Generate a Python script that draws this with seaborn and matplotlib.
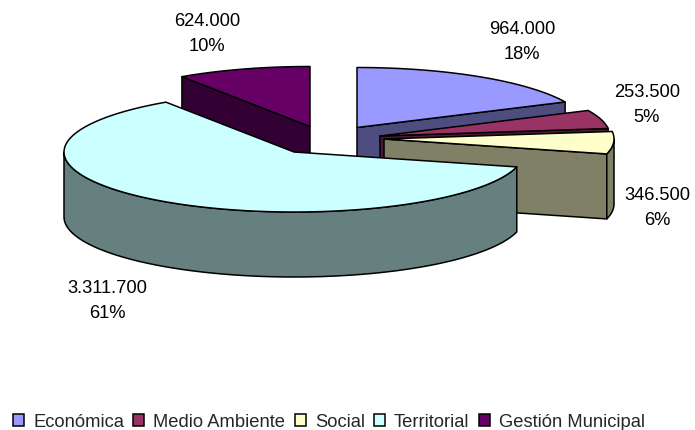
import numpy as np
import matplotlib
matplotlib.use("Agg")
import matplotlib.pyplot as plt
from matplotlib.patches import Polygon, Patch
import seaborn as sns

categories = ["Económica", "Medio Ambiente", "Social", "Territorial", "Gestión Municipal"]
amounts = [964000, 253500, 346500, 3311700, 624000]
percents = [18, 5, 6, 61, 10]
slice_shares = [18, 5, 6, 61.6, 9.4]  # as drawn in the picture
colors = ["#9999FF", "#993366", "#FFFFCC", "#CCFFFF", "#660066"]

# layout of the exploded 3-D pie, in pixels
centers = [(357, 128.5), (380, 137), (384, 140), (294, 153), (310, 127.5)]
label_xy = [(522, 42), (647, 105), (657, 208), (107, 301), (207, 34)]
RX, RY, DEPTH = 230, 60, 65
draw_order = [4, 0, 1, 2, 3]

sns.set_theme(style="white")
plt.rcParams["font.family"] = ["Liberation Sans", "DejaVu Sans"]
palette = sns.color_palette(colors)

fig = plt.figure(figsize=(6.95, 4.31), dpi=100)
ax = fig.add_axes([0, 0, 1, 1])
ax.set_xlim(0, 695)
ax.set_ylim(431, 0)
ax.axis("off")

ends = np.cumsum(slice_shares) * 3.6
starts = ends - np.array(slice_shares) * 3.6


def pt(c, t):
    r = np.radians(t)
    return np.column_stack([c[0] + RX * np.sin(r), c[1] - RY * np.cos(r)])


def face(xy, color, z):
    ax.add_patch(Polygon(xy, closed=True, facecolor=color, edgecolor="black",
                         lw=1.1, joinstyle="round", zorder=z))


for z, i in enumerate(draw_order):
    c, a, b = centers[i], starts[i], ends[i]
    top = palette[i]
    side = tuple(v * 0.5 for v in top)
    base = z * 10
    for t, visible in ((a, 180 < a < 360), (b, 0 < b < 180)):
        if visible:
            p = pt(c, t)[0]
            face([c, p, (p[0], p[1] + DEPTH), (c[0], c[1] + DEPTH)], side, base + 1)
    lo, hi = max(a, 90), min(b, 270)
    if lo < hi:
        arc = pt(c, np.linspace(lo, hi, 80))
        low = arc + [0, DEPTH]
        face(np.vstack([arc, low[::-1]]), side, base + 2)
    rim = pt(c, np.linspace(a, b, 120))
    face(np.vstack([[c], rim]), top, base + 3)

for xy, amount, pct in zip(label_xy, amounts, percents):
    text = f"{amount:,.0f}".replace(",", ".") + f"\n{pct}%"
    ax.text(xy[0], xy[1], text, ha="center", va="center", fontsize=13.2,
            color="black", linespacing=1.55, zorder=100)

handles = [Patch(facecolor=col, edgecolor="black", lw=1.1) for col in palette]
ax.legend(handles, categories, ncol=5, loc="center", bbox_to_anchor=(329 / 695, 1 - 423 / 431),
          frameon=False, fontsize=13.2, handlelength=0.6, handleheight=0.6,
          handletextpad=0.5, columnspacing=0.5, borderpad=0, borderaxespad=0)

fig.savefig("out.png", dpi=100)
